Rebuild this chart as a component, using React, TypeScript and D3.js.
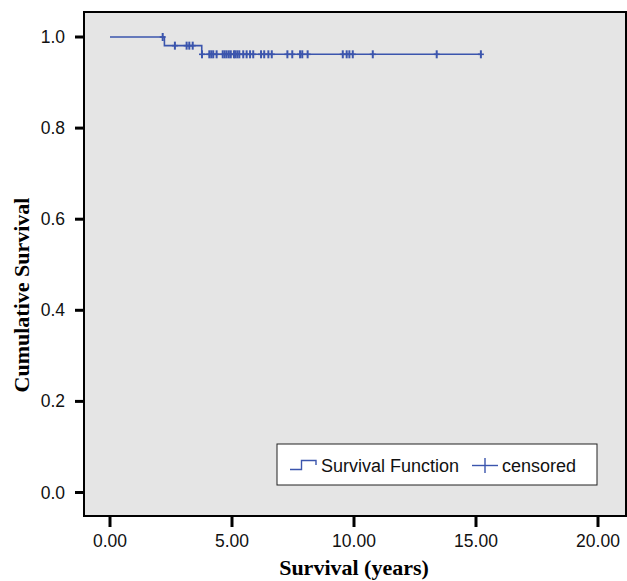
import * as d3 from "d3";

// Kaplan-Meier step: time of each step (years) and survival after it
const stepTimes = [0, 2.23, 3.76];
const stepSurvival = [1.0, 0.981, 0.962];
const followUpEnd = 15.2;

// censored observations (years)
const censoredTimes = [
  2.16, 2.66, 3.14, 3.25, 3.39, 3.77, 4.07, 4.15, 4.23, 4.37, 4.62, 4.7, 4.78,
  4.87, 4.95, 5.08, 5.14, 5.22, 5.3, 5.46, 5.6, 5.74, 5.87, 6.19, 6.32, 6.49,
  6.63, 7.27, 7.47, 7.79, 7.88, 8.1, 9.54, 9.7, 9.81, 9.95, 10.77, 13.39, 15.2,
];

const xTicks = [0, 5, 10, 15, 20];
const yTicks = [0, 0.2, 0.4, 0.6, 0.8, 1.0];

const BLUE = "#3b55ad";
const SANS = "'Liberation Sans', Arial, Helvetica, sans-serif";
const SERIF = "'Liberation Serif', 'Times New Roman', serif";

export default function App() {
  const width = 627;
  const height = 581;
  const frame = { left: 84, top: 12, right: 626, bottom: 516 };

  const x = d3.scaleLinear().domain([0, 20]).range([110, 598]);
  const y = d3.scaleLinear().domain([0, 1]).range([492.5, 37]);

  // survival level at time t (step function)
  const survAt = (t: number) => {
    let s = stepSurvival[0];
    stepTimes.forEach((st, i) => {
      if (t >= st) s = stepSurvival[i];
    });
    return s;
  };

  const points: [number, number][] = stepTimes.map((t, i) => [t, stepSurvival[i]]);
  points.push([followUpEnd, stepSurvival[stepSurvival.length - 1]]);

  const line = d3
    .line<[number, number]>()
    .x((d) => x(d[0]))
    .y((d) => y(d[1]))
    .curve(d3.curveStepAfter);

  const fmtX = d3.format(".2f");
  const fmtY = d3.format(".1f");

  return (
    <svg
      width={width}
      height={height}
      style={{ position: "absolute", left: 0, top: 0, background: "white" }}
    >
      {/* plot area */}
      <rect
        x={frame.left}
        y={frame.top}
        width={frame.right - frame.left}
        height={frame.bottom - frame.top}
        fill="#e5e5e5"
        stroke="black"
        strokeWidth={2}
      />

      {/* y axis */}
      {yTicks.map((t) => (
        <g key={"y" + t}>
          <line x1={75} x2={frame.left} y1={y(t)} y2={y(t)} stroke="black" strokeWidth={3} />
          <text
            x={65}
            y={y(t)}
            textAnchor="end"
            dominantBaseline="central"
            fontFamily={SANS}
            fontSize={17.5}
            fill="#111"
          >
            {fmtY(t)}
          </text>
        </g>
      ))}

      {/* x axis */}
      {xTicks.map((t) => (
        <g key={"x" + t}>
          <line x1={x(t)} x2={x(t)} y1={frame.bottom} y2={527} stroke="black" strokeWidth={3} />
          <text
            x={x(t)}
            y={547}
            textAnchor="middle"
            fontFamily={SANS}
            fontSize={17.5}
            fill="#111"
          >
            {fmtX(t)}
          </text>
        </g>
      ))}

      <text
        x={(x(0) + x(20)) / 2}
        y={575}
        textAnchor="middle"
        fontFamily={SERIF}
        fontWeight="bold"
        fontSize={22}
      >
        Survival (years)
      </text>
      <text
        transform="translate(28.5,295) rotate(-90)"
        textAnchor="middle"
        fontFamily={SERIF}
        fontWeight="bold"
        fontSize={22}
      >
        Cumulative Survival
      </text>

      {/* survival curve */}
      <path d={line(points) ?? ""} fill="none" stroke={BLUE} strokeWidth={1.6} />
      {censoredTimes.map((t, i) => {
        const cx = x(t);
        const cy = y(survAt(t));
        return (
          <g key={"c" + i} stroke={BLUE}>
            <line x1={cx} x2={cx} y1={cy - 4} y2={cy + 4} strokeWidth={2} />
            <line x1={cx - 3} x2={cx + 3} y1={cy} y2={cy} strokeWidth={1.6} />
          </g>
        );
      })}

      {/* legend */}
      <rect x={277} y={444} width={320} height={41} fill="white" stroke="#222" strokeWidth={1} />
      <path
        d="M290,469.5 H301.5 V460.5 H316 V465"
        fill="none"
        stroke={BLUE}
        strokeWidth={1.4}
      />
      <text x={321} y={472} fontFamily={SANS} fontSize={18} fill="#111">
        Survival Function
      </text>
      <line x1={472} x2={498} y1={465.5} y2={465.5} stroke={BLUE} strokeWidth={1.4} />
      <line x1={485} x2={485} y1={458} y2={473} stroke={BLUE} strokeWidth={1.4} />
      <text x={502} y={472} fontFamily={SANS} fontSize={18} fill="#111">
        censored
      </text>
    </svg>
  );
}
